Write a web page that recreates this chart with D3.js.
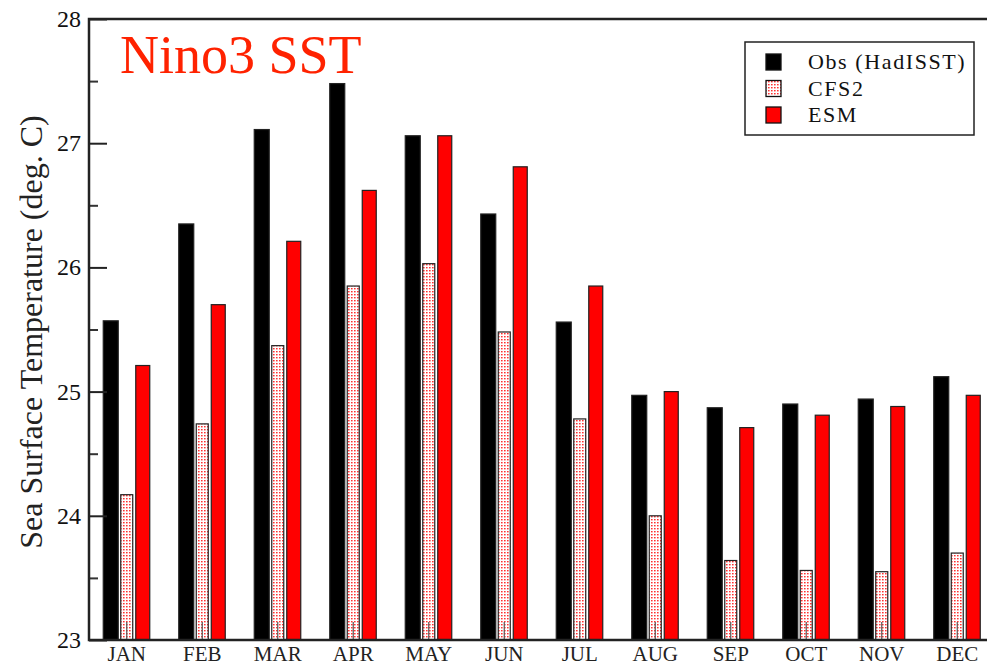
<!DOCTYPE html>
<html>
<head>
<meta charset="utf-8">
<script src="https://cdn.jsdelivr.net/npm/d3@7"></script>
<style>
	body { margin: 0; background: #fff; }
	svg { display: block; }
</style>
</head>
<body>
<div id="chart"></div>
<script>
// values (deg. C)
const months = ["JAN", "FEB", "MAR", "APR", "MAY", "JUN", "JUL", "AUG", "SEP", "OCT", "NOV", "DEC"];
const obs = [25.57, 26.35, 27.11, 27.48, 27.06, 26.43, 25.56, 24.97, 24.87, 24.90, 24.94, 25.12];
const cfs2 = [24.17, 24.74, 25.37, 25.85, 26.03, 25.48, 24.78, 24.00, 23.64, 23.56, 23.55, 23.70];
const esm = [25.21, 25.70, 26.21, 26.62, 27.06, 26.81, 25.85, 25.00, 24.71, 24.81, 24.88, 24.97];
const seriesNames = ["Obs (HadISST)", "CFS2", "ESM"];
const yTicks = [23, 24, 25, 26, 27, 28];
const yMinorTicks = [23.5, 24.5, 25.5, 26.5, 27.5];

const width = 987, height = 666;
const margin = {top: 19, right: -8, bottom: 26, left: 89};

const svg = d3.select("#chart").append("svg")
	.attr("width", width)
	.attr("height", height);

// dotted fill for the CFS2 bars
const pat = svg.append("defs").append("pattern")
	.attr("id", "dots")
	.attr("patternUnits", "userSpaceOnUse")
	.attr("width", 3)
	.attr("height", 3);
pat.append("rect").attr("width", 3).attr("height", 3).attr("fill", "#fff");
pat.append("rect").attr("width", 1.6).attr("height", 1.4).attr("fill", "#ff3030");

const series = [
	{name: seriesNames[0], data: obs, fill: "#000", offset: -16, w: 15},
	{name: seriesNames[1], data: cfs2, fill: "url(#dots)", offset: 0, w: 12},
	{name: seriesNames[2], data: esm, fill: "#ff0000", offset: 16, w: 14}
];

const x = d3.scaleBand()
	.domain(months)
	.range([margin.left, width - margin.right])
	.padding(0);

const y = d3.scaleLinear()
	.domain([23, 28])
	.range([height - margin.bottom, margin.top]);

// bars
series.forEach(s => {
	svg.append("g")
		.selectAll("rect")
		.data(s.data)
		.enter()
		.append("rect")
		.attr("x", (d, i) => x(months[i]) + x.bandwidth() / 2 + s.offset - s.w / 2)
		.attr("y", d => y(d))
		.attr("width", s.w)
		.attr("height", d => y(23) - y(d))
		.attr("fill", s.fill)
		.attr("stroke", "#222")
		.attr("stroke-width", 1.2);
});

// y axis: ticks drawn inside the frame
svg.append("g")
	.attr("transform", `translate(${margin.left},0)`)
	.call(d3.axisRight(y).tickValues(yTicks).tickSize(18).tickFormat(""))
	.call(g => g.select(".domain").remove())
	.selectAll("line").attr("stroke", "#222").attr("stroke-width", 2);

svg.append("g")
	.attr("transform", `translate(${margin.left},0)`)
	.call(d3.axisRight(y).tickValues(yMinorTicks).tickSize(9).tickFormat(""))
	.call(g => g.select(".domain").remove())
	.selectAll("line").attr("stroke", "#333").attr("stroke-width", 2);

svg.append("g")
	.selectAll("text")
	.data(yTicks)
	.enter()
	.append("text")
	.attr("x", margin.left - 8)
	.attr("y", d => y(d) + 8)
	.attr("text-anchor", "end")
	.style("font", "24px 'Liberation Serif', serif")
	.attr("fill", "#111")
	.text(d => d);

// x axis ticks pointing up, labels below
svg.append("g")
	.attr("transform", `translate(0,${height - margin.bottom})`)
	.call(d3.axisTop(x).tickSize(18).tickFormat(""))
	.call(g => g.select(".domain").remove())
	.selectAll("line").attr("stroke", "#555").attr("stroke-width", 1.2);

svg.append("g")
	.selectAll("text")
	.data(months)
	.enter()
	.append("text")
	.attr("x", d => x(d) + x.bandwidth() / 2)
	.attr("y", height - 5)
	.attr("text-anchor", "middle")
	.style("font", "21px 'Liberation Serif', serif")
	.attr("fill", "#222")
	.text(d => d);

// frame
svg.append("rect")
	.attr("x", margin.left)
	.attr("y", margin.top)
	.attr("width", width - margin.right - margin.left)
	.attr("height", y(23) - y(28))
	.attr("fill", "none")
	.attr("stroke", "#222")
	.attr("stroke-width", 2.5);

// y label
svg.append("text")
	.attr("transform", `translate(42,332) rotate(-90)`)
	.attr("text-anchor", "middle")
	.style("font", "32px 'Liberation Serif', serif")
	.attr("fill", "#222")
	.text("Sea Surface Temperature (deg. C)");

// title
svg.append("text")
	.attr("x", 120)
	.attr("y", 73)
	.style("font", "54px 'Liberation Serif', serif")
	.attr("fill", "#ff2200")
	.text("Nino3 SST");

// legend
const legend = svg.append("g");
legend.append("rect")
	.attr("x", 745)
	.attr("y", 42)
	.attr("width", 229)
	.attr("height", 93)
	.attr("fill", "#fff")
	.attr("stroke", "#222")
	.attr("stroke-width", 1.5);

const ly = d3.scalePoint().domain(seriesNames).range([62, 115]);
series.forEach(s => {
	legend.append("rect")
		.attr("x", 766)
		.attr("y", ly(s.name) - 8)
		.attr("width", 15)
		.attr("height", 16)
		.attr("fill", s.fill)
		.attr("stroke", "#111")
		.attr("stroke-width", 1.3);
	legend.append("text")
		.attr("x", 808)
		.attr("y", ly(s.name) + 7)
		.style("font", "22px 'Liberation Serif', serif")
		.style("letter-spacing", "1.6px")
		.attr("fill", "#111")
		.text(s.name);
});
</script>
</body>
</html>
